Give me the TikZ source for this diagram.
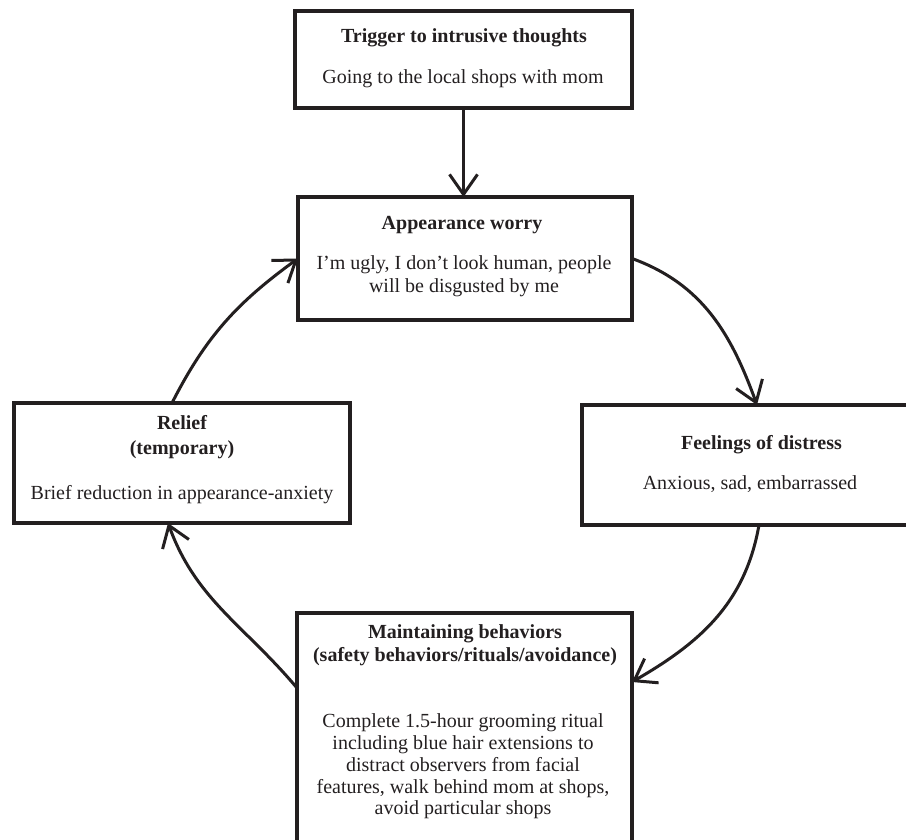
\documentclass[tikz,border=0pt]{standalone}
\usepackage{fontspec}
\setmainfont{Liberation Serif}
\usetikzlibrary{arrows.meta}
\definecolor{ink}{RGB}{35,31,32}
\begin{document}
\begin{tikzpicture}[x=1pt,y=1pt,
  box/.style={draw=ink, line width=3.2pt, rectangle, outer sep=0pt, inner sep=0pt},
  ttl/.style={text=ink, font=\fontsize{20}{24}\selectfont\bfseries, anchor=base, align=center, inner sep=0pt},
  txt/.style={text=ink, font=\fontsize{20}{22}\selectfont, anchor=base, align=center, inner sep=0pt},
  arr/.style={draw=ink, line width=3pt, -{Straight Barb[length=20pt,width=28pt]}}]
\useasboundingbox (0,0) rectangle (906,839);

% boxes
\node[box, minimum width=337pt, minimum height=97pt]  (trig)   at (463.5,779.5) {};
\node[box, minimum width=334pt, minimum height=123pt] (appear) at (465,580.5) {};
\node[box, minimum width=336pt, minimum height=120pt] (feel)   at (750,374) {};
\node[box, minimum width=336pt, minimum height=120pt] (relief) at (182,376) {};
\node[box, minimum width=335pt, minimum height=229pt] (maint)  at (464.5,111.5) {};

% texts (multi-line nodes: coordinate = baseline of the last line)
\node[ttl] (trigT) at (464,796) {Trigger to intrusive thoughts};
\node[txt] (trigB) at (463,755.7) {Going to the local shops with mom};

\node[ttl] (appT) at (462,609) {Appearance worry};
\node[txt, font=\fontsize{20}{23}\selectfont] (appB) at (464,546) {I’m ugly, I don’t look human, people\\will be disgusted by me};

\node[ttl] (feelT) at (761.5,389) {Feelings of distress};
\node[txt] (feelB) at (750,349) {Anxious, sad, embarrassed};

\node[ttl, font=\fontsize{20}{25}\selectfont\bfseries] (relT) at (182,384) {Relief\\(temporary)};
\node[txt] (relB) at (182,339) {Brief reduction in appearance-anxiety};

\node[ttl, font=\fontsize{20}{23}\selectfont\bfseries] (maintT) at (465,177) {Maintaining behaviors\\(safety behaviors/rituals/avoidance)};
\node[txt, font=\fontsize{20}{21.75}\selectfont] (maintB) at (463,24) {Complete 1.5-hour grooming ritual\\including blue hair extensions to\\distract observers from facial\\features, walk behind mom at shops,\\avoid particular shops};

% connectors
\draw[arr] (trig.south) -- (trig.south |- appear.north);
\draw[arr] (appear.east) to[out=-20,in=110] ([xshift=7pt]feel.north);
\draw[arr] ([xshift=9pt]feel.south) to[out=-100,in=30] ([yshift=-69pt]maint.north east);
\draw[arr] ([yshift=-75pt]maint.north west) to[out=130,in=-70] ([xshift=-14pt]relief.south);
\draw[arr] ([xshift=-10pt]relief.north) to[out=63,in=216] (appear.west);
\end{tikzpicture}
\end{document}
